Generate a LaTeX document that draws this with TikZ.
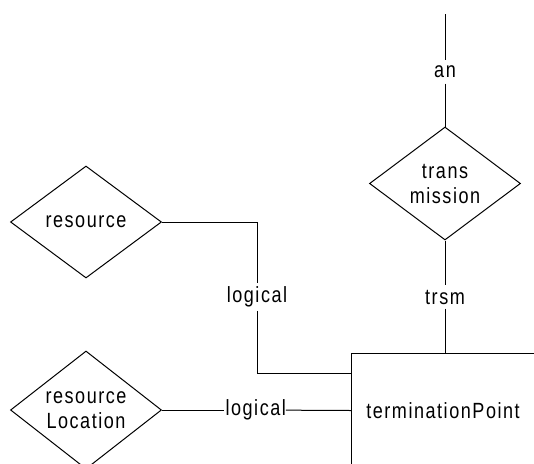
\documentclass[tikz,border=0pt]{standalone}
\usepackage{fontspec}
\setmainfont[LetterSpace=7,FakeStretch=0.82]{Liberation Sans}
\usetikzlibrary{shapes.geometric}
\begin{document}
\begin{tikzpicture}[x=1pt,y=-1pt,line width=1pt,
  every node/.style={font=\fontsize{22}{25}\selectfont},
  rel/.style={diamond,draw,inner sep=0pt,minimum width=151pt,minimum height=112pt,align=center},
  lbl/.style={inner sep=3pt}]
\useasboundingbox (0,0) rectangle (534,463);
\node[rel] (res) at (86,222) {resource};
\node[rel] (resloc) at (86,410) {resource\\Location};
\node[rel,minimum height=113pt] (trans) at (445,183.5) {trans\\mission};
\node[anchor=north west,minimum width=183pt,minimum height=114pt,inner sep=0pt] (tp) at (351,353) {terminationPoint};
\coordinate (top) at (445,14);
\node[lbl,inner sep=5pt] (an) at (445,72) {an};
\node[lbl,inner sep=4pt] (trsm) at (445,297) {trsm};
\node[lbl,inner sep=3pt] (lg1) at (257,297) {logical};
\node[lbl,inner xsep=1pt,inner ysep=2pt] (lg2) at (255,410) {logical\kern-1.5pt};
\draw (tp.south west) -- (tp.north west) -- (tp.north east);
\draw (top) -- (an);
\draw (an) -- (trans.north);
\draw (trans.south) -- (trsm);
\draw (trsm) -- (trsm |- tp.north);
\draw (res.east) -| (lg1);
\draw (lg1) |- ([yshift=37pt]tp.west);
\draw (resloc.east) -- (lg2);
\draw (lg2) -- (tp.west);
\end{tikzpicture}
\end{document}
